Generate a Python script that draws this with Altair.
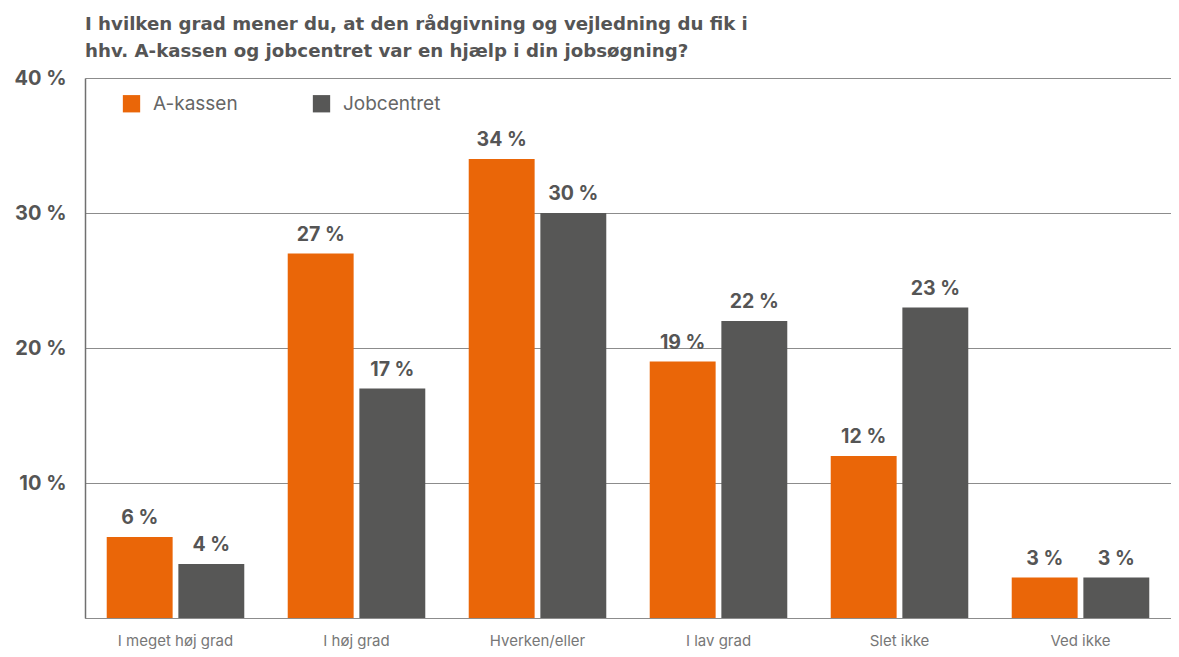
import altair as alt
import pandas as pd

categories = ["I meget høj grad", "I høj grad", "Hverken/eller", "I lav grad", "Slet ikke", "Ved ikke"]
series = ["A-kassen", "Jobcentret"]
akassen = [6, 27, 34, 19, 12, 3]
jobcentret = [4, 17, 30, 22, 23, 3]
colors = ["#EA6608", "#575756"]
title_lines = [
    "I hvilken grad mener du, at den rådgivning og vejledning du fik i",
    "hhv. A-kassen og jobcentret var en hjælp i din jobsøgning?",
]

rows = []
for c, a, j in zip(categories, akassen, jobcentret):
    rows.append({"cat": c, "serie": series[0], "val": a})
    rows.append({"cat": c, "serie": series[1], "val": j})
df = pd.DataFrame(rows)

FONT = "Inter"

x = alt.X(
    "cat:N",
    sort=categories,
    scale=alt.Scale(paddingInner=0.24, paddingOuter=0.12),
    axis=alt.Axis(
        title=None, ticks=False, domain=True, domainColor="#8c8c8c", domainWidth=1.2,
        labelAngle=0, labelFont=FONT, labelFontSize=15, labelColor="#777777",
        labelPadding=15, labelBaseline="top", labelLimit=300,
    ),
)
xoff = alt.XOffset("serie:N", sort=series, scale=alt.Scale(paddingInner=0.08))
y = alt.Y(
    "val:Q",
    scale=alt.Scale(domain=[0, 40]),
    axis=alt.Axis(
        title=None, values=[0, 10, 20, 30, 40], ticks=False,
        labelExpr="datum.value == 0 ? '' : datum.value + ' %'",
        labelFont=FONT, labelFontSize=20, labelFontWeight="bold", labelColor="#555555",
        labelPadding=19, grid=True, gridColor="#8c8c8c", gridWidth=1.2,
        domain=True, domainColor="#707070", domainWidth=1.5,
    ),
)

bars = alt.Chart(df).mark_bar().encode(
    x=x, xOffset=xoff, y=y,
    color=alt.Color(
        "serie:N", sort=series,
        scale=alt.Scale(domain=series, range=colors),
        legend=alt.Legend(
            title=None, orient="none", legendX=37, legendY=16, direction="horizontal",
            columns=2, columnPadding=74, symbolType="square", symbolSize=300,
            symbolStrokeWidth=0, labelFont=FONT, labelFontSize=19, labelColor="#666666",
            labelOffset=12, padding=0,
        ),
    ),
)

labels = alt.Chart(df).mark_text(
    baseline="alphabetic", dy=-13, font=FONT, fontSize=19.5, fontWeight="bold", color="#555555",
).encode(
    x=x, xOffset=xoff, y=y,
    text=alt.Text("label:N"),
).transform_calculate(label="datum.val + ' %'")

chart = (
    alt.layer(bars, labels)
    .properties(
        width=1086,
        height=540,
        title=alt.TitleParams(
            text=title_lines, anchor="start", font="DejaVu Sans", fontSize=18.2, fontWeight="bold",
            color="#555555", lineHeight=27, offset=7, frame="group",
        ),
        autosize=alt.AutoSizeParams(type="none"),
        padding={"left": 77, "top": 70, "right": 0, "bottom": 31},
    )
    .configure_view(stroke=None)
)

chart.save("out.html", embed_options={"renderer": "svg", "actions": False})
